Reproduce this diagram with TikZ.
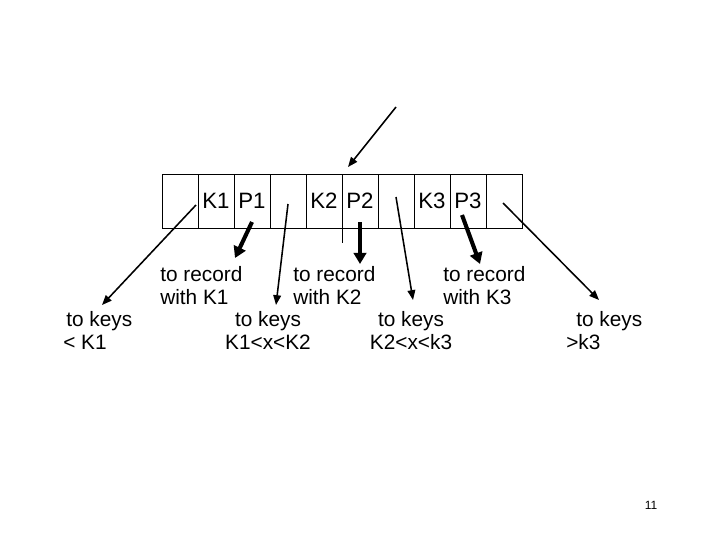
\documentclass[tikz,border=0pt]{standalone}
\usepackage{fontspec}
\setmainfont{Liberation Sans}
\usetikzlibrary{arrows.meta}

\begin{document}
\begin{tikzpicture}[
  x=0.025cm, y=-0.025cm,
  cell/.style   = {draw, line width=0.7pt, inner sep=0pt,
                   minimum width=0.9cm, minimum height=1.35cm,
                   font=\fontsize{15.8}{18}\selectfont},
  lbl/.style    = {inner sep=0pt, align=left, anchor=base west,
                   font=\fontsize{14.8}{16}\selectfont},
  keyc/.style   = {inner sep=0pt, align=center, anchor=base,
                   font=\fontsize{14.8}{16}\selectfont},
  ptr/.style    = {-{Triangle[length=7pt, width=5.5pt]}, line width=1.1pt},
  recptr/.style = {-{Triangle[length=8pt, width=9pt]}, line width=2.9pt},
]
\useasboundingbox (0,0) rectangle (720,540);

%%────────── node of the tree ───────────────────────────────
\foreach \t [count=\i] in {{},K1,P1,{},K2,P2,{},K3,P3,{}}
  \node[cell] (c\i) at (144+36*\i, 201) {\t};
\draw[line width=0.5pt] (c5.south east) -- +(0,14);

%%────────── labels ─────────────────────────────────────────
\node[lbl] (rec1) at (160,304) {to record\\with K1};
\node[lbl] (rec2) at (293,304) {to record\\with K2};
\node[lbl] (rec3) at (443,304) {to record\\with K3};

\node[lbl]  (keys1) at (63,349)  {\hspace{0.075cm}to keys\\< K1};
\node[keyc] (keys2) at (268,349) {to keys\\K1<x<K2};
\node[keyc] (keys3) at (411,349) {to keys\\K2<x<k3};
\node[lbl]  (keys4) at (566,349) {\hspace{0.25cm}to keys\\>k3};

\node[font=\fontsize{8.5}{10}\selectfont, anchor=base, inner sep=0pt]
  (pg) at (651,509) {11};

%%────────── pointers ───────────────────────────────────────
\coordinate (in)  at (396,107);  \coordinate (inE) at (348,167);
\coordinate (q1)  at (196,205);  \coordinate (q1E) at (102,305);
\coordinate (r1)  at (252,222);  \coordinate (r1E) at (235,258);
\coordinate (q2)  at (288,204);  \coordinate (q2E) at (276,305);
\coordinate (r2)  at (360,222);  \coordinate (r2E) at (360,264);
\coordinate (q3)  at (396,197);  \coordinate (q3E) at (413,300);
\coordinate (r3)  at (462,215);  \coordinate (r3E) at (480,264);
\coordinate (q4)  at (503,203);  \coordinate (q4E) at (599,300);

\draw[ptr]    (in) -- (inE);
\draw[ptr]    (q1) -- (q1E);
\draw[ptr]    (q2) -- (q2E);
\draw[ptr]    (q3) -- (q3E);
\draw[ptr]    (q4) -- (q4E);
\draw[recptr] (r1) -- (r1E);
\draw[recptr] (r2) -- (r2E);
\draw[recptr] (r3) -- (r3E);

\end{tikzpicture}
\end{document}
